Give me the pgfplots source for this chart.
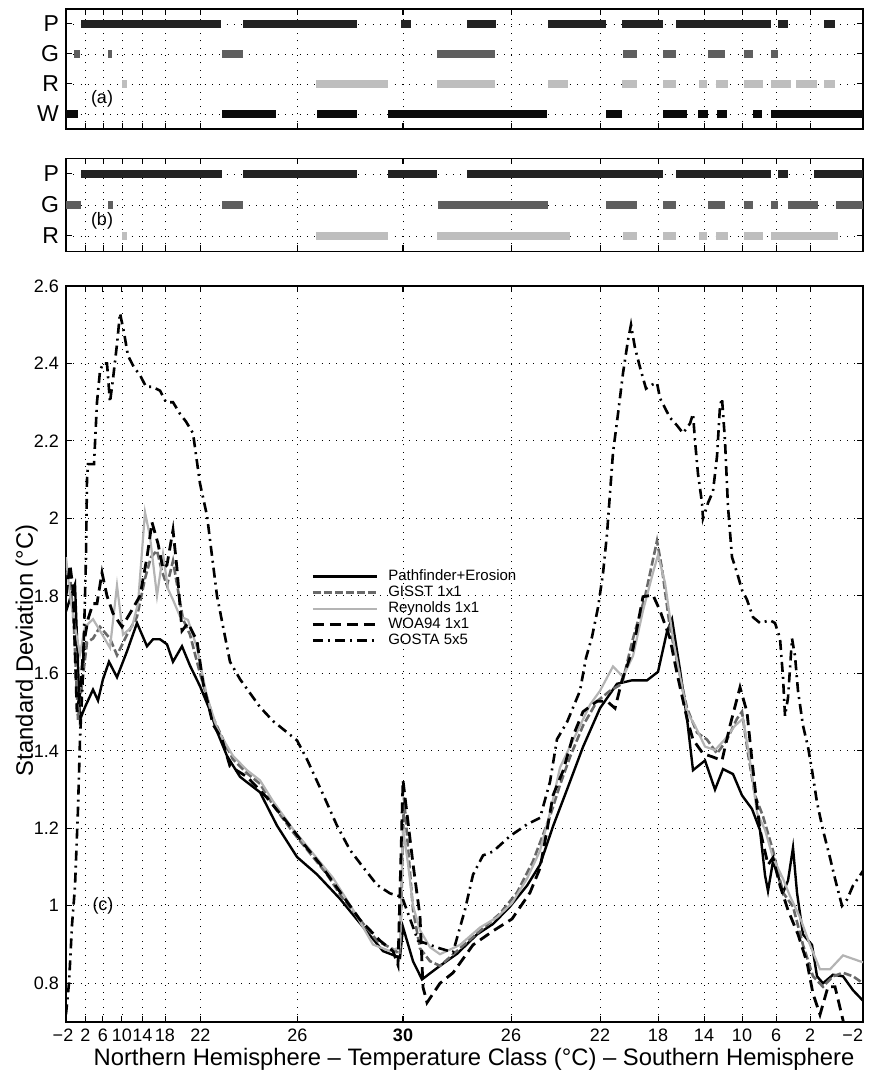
\documentclass[border=0pt]{standalone}
\usepackage{fontspec}
\setmainfont{Liberation Sans}
\usepackage{pgfplots}
\pgfplotsset{compat=1.18}
\definecolor{cP}{RGB}{35,35,35}
\definecolor{cG}{RGB}{95,95,95}
\definecolor{cR}{RGB}{190,190,190}
\definecolor{cW}{RGB}{10,10,10}
\definecolor{gisst}{RGB}{105,105,105}
\definecolor{reyn}{RGB}{180,180,180}
\pgfplotsset{
  common/.style={
    scale only axis, width=398.5pt, anchor=south west,
    xmin=0, xmax=797,
    xtick={0,19.5,37,56,76.5,99,134.5,231.5,445,534,592,638,676,710,744,797},
    extra x ticks={337},
    extra x tick style={tick style={line width=1.4pt}},
    tick align=inside, major tick length=3pt,
    xmajorgrids, ymajorgrids,
    grid style={black, line width=0.45pt, dash pattern=on 0.45pt off 3.2pt},
    axis line style={line width=0.6pt},
    tick style={black, line width=0.5pt},
    every tick label/.append style={font=\fontsize{9}{10}\selectfont},
    /pgf/number format/assume math mode=true,
    clip=true,
  },
  bar/.style={line width=4.4pt, unbounded coords=jump},
}
\begin{document}
\begin{tikzpicture}
\useasboundingbox (0pt,0pt) rectangle (435.5pt,535pt);

% ---------------- panel (a)
\begin{axis}[common, at={(33pt,470.5pt)}, height=60pt,
  ymin=0.5, ymax=4.5, ytick={1,2,3,4}, yticklabels={W,R,G,P},
  yticklabel style={font=\fontsize{11.5}{12}\selectfont},
  xticklabels={}, extra x tick labels={}]
\addplot[bar, cP] coordinates {(15,4)(155,4)(0,nan)(177,4)(291,4)(0,nan)(335,4)(345,4)(0,nan)(401,4)(430,4)(0,nan)(482,4)(540,4)(0,nan)(556,4)(597,4)(0,nan)(610,4)(705,4)(0,nan)(712,4)(722,4)(0,nan)(758,4)(769,4)};
\addplot[bar, cG] coordinates {(8,3)(14,3)(0,nan)(42,3)(46,3)(0,nan)(156,3)(177,3)(0,nan)(371,3)(429,3)(0,nan)(557,3)(571,3)(0,nan)(597,3)(610,3)(0,nan)(642,3)(659,3)(0,nan)(678,3)(687,3)(0,nan)(705,3)(712,3)};
\addplot[bar, cR] coordinates {(56,2)(61,2)(0,nan)(250,2)(322,2)(0,nan)(371,2)(429,2)(0,nan)(482,2)(502,2)(0,nan)(556,2)(571,2)(0,nan)(597,2)(610,2)(0,nan)(633,2)(641,2)(0,nan)(650,2)(662,2)(0,nan)(678,2)(697,2)(0,nan)(705,2)(725,2)(0,nan)(730,2)(751,2)(0,nan)(758,2)(769,2)};
\addplot[bar, cW] coordinates {(0,1)(12,1)(0,nan)(156,1)(210,1)(0,nan)(251,1)(291,1)(0,nan)(322,1)(481,1)(0,nan)(540,1)(556,1)(0,nan)(597,1)(621,1)(0,nan)(632,1)(642,1)(0,nan)(651,1)(661,1)(0,nan)(687,1)(696,1)(0,nan)(705,1)(797,1)};
\node[font=\fontsize{9}{10}\selectfont] at (axis cs:36,1.5) {(a)};
\end{axis}

% ---------------- panel (b)
\begin{axis}[common, at={(33pt,409.25pt)}, height=46.5pt,
  ymin=0.5, ymax=3.5, ytick={1,2,3}, yticklabels={R,G,P},
  yticklabel style={font=\fontsize{11.5}{12}\selectfont},
  xticklabels={}, extra x tick labels={}]
\addplot[bar, cP] coordinates {(15,3)(156,3)(0,nan)(177,3)(291,3)(0,nan)(322,3)(371,3)(0,nan)(401,3)(597,3)(0,nan)(610,3)(705,3)(0,nan)(712,3)(722,3)(0,nan)(748,3)(797,3)};
\addplot[bar, cG] coordinates {(0,2)(15,2)(0,nan)(42,2)(47,2)(0,nan)(156,2)(177,2)(0,nan)(372,2)(482,2)(0,nan)(540,2)(571,2)(0,nan)(597,2)(610,2)(0,nan)(642,2)(659,2)(0,nan)(678,2)(687,2)(0,nan)(705,2)(712,2)(0,nan)(722,2)(752,2)(0,nan)(770,2)(797,2)};
\addplot[bar, cR] coordinates {(56,1)(61,1)(0,nan)(250,1)(322,1)(0,nan)(371,1)(504,1)(0,nan)(557,1)(571,1)(0,nan)(597,1)(610,1)(0,nan)(633,1)(641,1)(0,nan)(650,1)(662,1)(0,nan)(678,1)(697,1)(0,nan)(705,1)(772,1)};
\node[font=\fontsize{9}{10}\selectfont] at (axis cs:36,1.5) {(b)};
\end{axis}

% ---------------- panel (c)
\begin{axis}[common, at={(33pt,24pt)}, height=368pt,
  ymin=0.7, ymax=2.6,
  ytick={0.8,1.0,1.2,1.4,1.6,1.8,2.0,2.2,2.4,2.6},
  yticklabels={0.8,1,1.2,1.4,1.6,1.8,2,2.2,2.4,2.6},
  xticklabels={\makebox[0pt]{−2\hspace{3pt}},2,6,10,14,18,22,26,26,22,18,14,10,6,2,\makebox[0pt][r]{−2}},
  extra x tick labels={\bfseries 30},
  xlabel={Northern Hemisphere – Temperature Class (°C) – Southern Hemisphere},
  ylabel={Standard Deviation (°C)},
  label style={font=\fontsize{11.9}{13}\selectfont},
  xlabel style={at={(rel axis cs:0.512,0)}, anchor=base, yshift=-21.5pt},
  ylabel style={at={(rel axis cs:0,0.505)}, anchor=base, yshift=16.5pt},
  legend style={draw=none, fill=none, at={(rel axis cs:0.300,0.622)}, anchor=north west,
    font=\fontsize{7.5}{8}\selectfont, row sep=0pt, column sep=4.5pt,
    nodes={inner sep=0.5pt, text height=5.5pt, text depth=1.5pt}, cells={anchor=west}},
  legend image code/.code={\draw[#1] (0pt,0pt) -- (32pt,0pt);},
]
\addplot[black, line width=1.2pt] coordinates {
(0,1.76)(5,1.80)(9,1.83)(14,1.48)(17,1.50)(19,1.513)(27,1.558)(32,1.53)(37,1.585)(43,1.63)(51,1.59)(61,1.657)(71,1.73)(81,1.67)(87,1.688)(94,1.688)(101,1.675)(107,1.63)(116,1.67)(124,1.62)(134,1.567)(144,1.504)(151,1.45)(161,1.387)(174,1.333)(194,1.293)(211,1.207)(231,1.126)(251,1.081)(274,1.018)(294,0.955)(317,0.883)(334,0.866)(337,0.945)(347,0.857)(356,0.81)(374,0.845)(391,0.876)(411,0.926)(427,0.953)(444,0.998)(461,1.052)(474,1.106)(487,1.205)(501,1.30)(517,1.41)(534,1.51)(551,1.573)(566,1.582)(581,1.582)(592,1.604)(601,1.708)(606,1.74)(614,1.609)(621,1.483)(627,1.35)(639,1.375)(649,1.30)(657,1.353)(667,1.34)(676,1.285)(686,1.25)(694,1.195)(699,1.079)(702,1.038)(707,1.115)(712,1.079)(717,1.034)(722,1.065)(727,1.15)(731,1.034)(737,0.926)(746,0.899)(751,0.818)(757,0.80)(767,0.822)(777,0.818)(787,0.782)(797,0.755)};
\addlegendentry{Pathfinder+Erosion}
\addplot[gisst, line width=1.3pt, dash pattern=on 4pt off 1.5pt] coordinates {
(0,1.86)(4,1.85)(8,1.72)(12,1.48)(15,1.55)(21,1.68)(27,1.69)(34,1.72)(44,1.69)(51,1.647)(61,1.70)(71,1.746)(79,1.845)(85,1.90)(91,1.917)(96,1.863)(101,1.827)(107,1.89)(111,1.83)(117,1.74)(124,1.70)(134,1.60)(147,1.486)(157,1.43)(167,1.378)(181,1.342)(194,1.315)(207,1.26)(227,1.19)(247,1.126)(261,1.081)(277,1.018)(294,0.964)(311,0.91)(327,0.888)(334,0.875)(338,1.28)(347,0.99)(354,0.89)(364,0.857)(374,0.845)(394,0.89)(414,0.935)(434,0.98)(451,1.034)(467,1.115)(484,1.231)(494,1.312)(504,1.384)(517,1.465)(531,1.528)(544,1.555)(556,1.573)(567,1.69)(579,1.798)(591,1.942)(596,1.87)(604,1.717)(612,1.618)(621,1.51)(631,1.447)(641,1.429)(651,1.393)(661,1.429)(671,1.483)(676,1.501)(682,1.393)(689,1.285)(697,1.231)(707,1.142)(717,1.034)(727,0.998)(737,0.899)(747,0.818)(757,0.791)(767,0.818)(777,0.827)(787,0.818)(797,0.80)};
\addlegendentry{GISST 1x1}
\addplot[reyn, line width=1.1pt] coordinates {
(0,1.90)(4,1.80)(9,1.72)(14,1.65)(19,1.72)(27,1.74)(34,1.71)(44,1.666)(51,1.827)(57,1.70)(66,1.72)(72,1.78)(79,2.016)(84,1.953)(91,1.80)(97,1.908)(102,1.818)(107,1.79)(114,1.747)(122,1.738)(131,1.666)(141,1.54)(151,1.459)(157,1.43)(167,1.387)(181,1.35)(194,1.324)(207,1.27)(227,1.198)(247,1.135)(267,1.072)(287,0.99)(307,0.90)(324,0.883)(334,0.893)(337,1.198)(342,1.108)(347,1.0)(354,0.937)(364,0.893)(374,0.875)(394,0.899)(414,0.944)(431,0.97)(446,1.007)(461,1.07)(474,1.142)(484,1.24)(494,1.357)(504,1.411)(514,1.465)(524,1.519)(534,1.555)(547,1.618)(557,1.591)(567,1.645)(577,1.762)(587,1.86)(592,1.906)(599,1.834)(607,1.69)(614,1.591)(621,1.501)(629,1.465)(639,1.411)(649,1.402)(659,1.43)(669,1.465)(677,1.483)(684,1.375)(691,1.24)(699,1.196)(707,1.124)(717,1.07)(724,1.025)(734,0.97)(744,0.899)(754,0.836)(764,0.836)(777,0.872)(787,0.863)(797,0.854)};
\addlegendentry{Reynolds 1x1}
\addplot[black, line width=1.4pt, dash pattern=on 5.5pt off 3pt] coordinates {
(0,1.80)(4,1.88)(7,1.82)(11,1.50)(14,1.55)(18,1.68)(22,1.74)(27,1.78)(31,1.78)(36,1.86)(41,1.80)(47,1.755)(56,1.72)(64,1.755)(74,1.80)(81,1.90)(86,1.99)(92,1.935)(97,1.87)(101,1.88)(107,1.97)(111,1.87)(116,1.71)(122,1.73)(131,1.684)(137,1.576)(147,1.468)(156,1.43)(164,1.36)(181,1.333)(201,1.279)(221,1.216)(237,1.162)(254,1.108)(274,1.036)(294,0.964)(314,0.91)(327,0.883)(332,0.847)(337,1.324)(342,1.216)(347,1.108)(354,0.973)(357,0.79)(361,0.75)(374,0.80)(387,0.827)(407,0.899)(427,0.935)(446,0.966)(464,1.034)(474,1.097)(481,1.195)(487,1.285)(497,1.348)(507,1.438)(517,1.501)(531,1.528)(541,1.528)(549,1.51)(556,1.582)(567,1.663)(577,1.798)(587,1.802)(594,1.762)(604,1.69)(611,1.60)(621,1.483)(627,1.429)(637,1.393)(647,1.384)(656,1.375)(664,1.465)(674,1.564)(681,1.50)(686,1.375)(691,1.258)(694,1.196)(702,1.106)(707,1.124)(714,1.052)(722,0.989)(732,0.926)(741,0.854)(747,0.773)(754,0.719)(762,0.791)(769,0.791)(774,0.737)(779,0.683)(784,0.65)};
\addlegendentry{WOA94 1x1}
\addplot[black, line width=1.3pt, dash pattern=on 5pt off 2.5pt on 1pt off 2.5pt] coordinates {
(0,0.72)(3,0.80)(6,0.95)(9,1.05)(12,1.25)(14,1.43)(17,1.6)(20,1.9)(21,2.1)(22,2.14)(28,2.14)(31,2.3)(34,2.38)(37,2.40)(41,2.40)(44,2.30)(47,2.36)(51,2.45)(54,2.53)(58,2.48)(62,2.42)(68,2.39)(74,2.37)(80,2.34)(86,2.34)(94,2.33)(100,2.30)(107,2.30)(114,2.27)(120,2.25)(127,2.22)(134,2.09)(141,2.007)(151,1.80)(164,1.63)(174,1.585)(194,1.513)(207,1.477)(231,1.427)(241,1.378)(257,1.288)(271,1.207)(284,1.144)(297,1.10)(311,1.054)(324,1.032)(336,1.023)(352,0.91)(374,0.89)(387,0.88)(399,0.99)(407,1.08)(417,1.13)(427,1.14)(444,1.18)(461,1.21)(474,1.227)(484,1.32)(491,1.43)(501,1.474)(514,1.555)(520,1.64)(526,1.694)(532,1.77)(537,1.858)(541,1.96)(544,2.065)(547,2.17)(552,2.27)(557,2.375)(562,2.46)(565,2.5)(569,2.44)(574,2.39)(580,2.335)(586,2.345)(591,2.35)(594,2.31)(604,2.26)(611,2.24)(617,2.22)(624,2.245)(627,2.27)(629,2.2)(632,2.115)(636,2.04)(637,2.0)(642,2.04)(647,2.07)(651,2.16)(654,2.29)(656,2.31)(659,2.2)(662,2.03)(666,1.9)(671,1.86)(676,1.815)(681,1.79)(687,1.745)(694,1.73)(704,1.737)(709,1.73)(714,1.69)(717,1.59)(719,1.49)(722,1.537)(726,1.69)(729,1.645)(732,1.555)(737,1.465)(742,1.41)(746,1.35)(751,1.267)(757,1.195)(764,1.124)(769,1.07)(776,1.0)(781,1.016)(787,1.052)(797,1.09)};
\addlegendentry{GOSTA 5x5}
\node[font=\fontsize{9}{10}\selectfont] at (axis cs:37,1.0) {(c)};
\end{axis}
\end{tikzpicture}
\end{document}
